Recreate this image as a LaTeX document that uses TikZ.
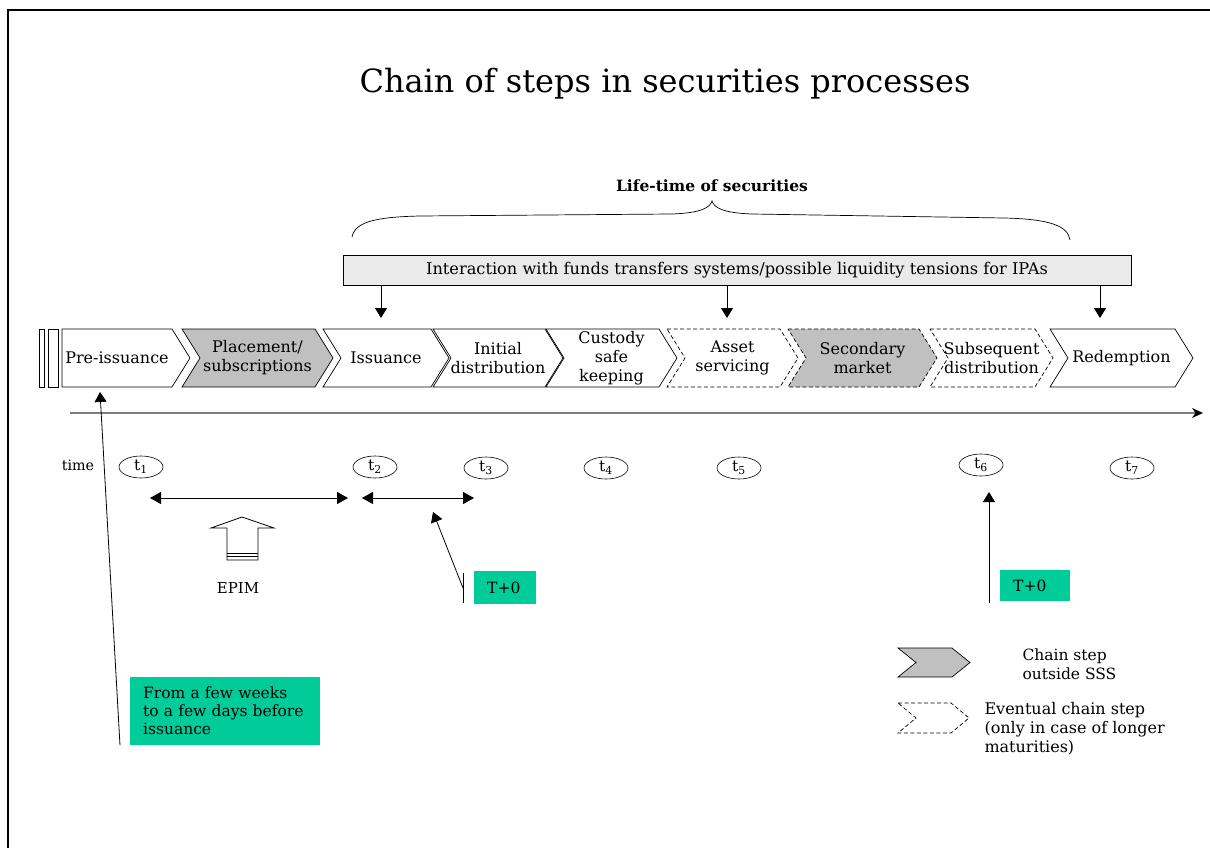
\documentclass[tikz,border=0pt]{standalone}
\usepackage{fontspec}
\setmainfont{DejaVu Serif}
\usepackage{tikz}
\usetikzlibrary{
  shapes.geometric,
  arrows.meta,
  positioning,
  calc
}
\definecolor{StepGray}{RGB}{192,192,192}
\definecolor{BandGray}{RGB}{234,234,234}
\definecolor{NoteGreen}{RGB}{0,204,153}
\definecolor{AxisGray}{RGB}{125,125,125}
\newcommand{\fs}[2]{\fontsize{#1}{#2}\selectfont}
%% chevron: name, style, x left, x tip, y top, y bottom, text
\newcommand{\chevstep}[7]{%
  \draw[#2] (#3,#5) -- ({#4-18},#5) -- (#4,{(#5+#6)/2})
    -- ({#4-18},#6) -- (#3,#6) -- ({#3+18},{(#5+#6)/2}) -- cycle;
  \node[steptext] (#1) at ({(#3+#4)/2},{(#5+#6)/2}) {#7};}
\tikzset{
  %%── chain steps ─────────────────────────────────────────
  stepbox/.style = {draw = black, line width = 0.7pt, fill = white},
  stepout/.style = {stepbox, fill = StepGray},
  stepopt/.style = {stepbox, dash pattern = on 4pt off 2.5pt},
  stepoutopt/.style = {stepout, dash pattern = on 4pt off 2.5pt},
  steptext/.style = {align = center, inner sep = 0pt, font = \fs{16}{19}},
  %%── time marks ──────────────────────────────────────────
  timeoval/.style = {
    ellipse, draw, line width = 0.6pt,
    minimum width = 44pt, minimum height = 22pt,
    inner sep = 0pt, font = \fs{15.5}{16}
  },
  %%── green notes ─────────────────────────────────────────
  note/.style = {
    rectangle, fill = NoteGreen, inner xsep = 13pt, inner ysep = 0pt,
    align = left, anchor = north west, font = \fs{15.5}{18}
  },
  band/.style = {
    rectangle, draw = black, line width = 0.7pt, fill = BandGray,
    minimum width = 788pt, minimum height = 30pt, font = \fs{16.2}{17}
  },
  %%── arrows ──────────────────────────────────────────────
  arr/.style  = {-{Triangle[length = 10pt, width = 12pt]}, line width = 0.8pt},
  darr/.style = {{Triangle[length = 11pt, width = 12pt]}-{Triangle[length = 11pt, width = 12pt]},
                 line width = 0.8pt},
  axis/.style = {-{Stealth[length = 11pt, width = 10pt, black]}, line width = 1.4pt, color = AxisGray},
}

\begin{document}
\begin{tikzpicture}[x = 1pt, y = -1pt, node distance = 6pt and 8pt]
  \useasboundingbox (0,0) rectangle (1210,848);
  \draw[line width = 1.6pt] (8,848) -- (8,10) -- (1210,10);

  %% ── title / life-time ─────────────────────────────────
  \node[font = \fs{32}{36}] (title) at (665,84) {Chain of steps in securities processes};
  \node[font = \fs{15.5}{18}\bfseries] (life) at (712,186) {Life-time of securities};
  \draw[line width = 0.7pt] (352,237) .. controls (355,222) and (375,217) .. (420,216)
    -- (672,214) .. controls (700,213) and (710,208) .. (712,201)
    .. controls (714,208) and (724,213) .. (752,214)
    -- (1004,218) .. controls (1050,219) and (1068,226) .. (1070,240);

  %% ── interaction band ──────────────────────────────────
  \node[band] (inter) at (737,270)
    {Interaction with funds transfers systems/possible liquidity tensions for IPAs};
  \coordinate (dn1) at (381,318);
  \coordinate (dn2) at (727,318);
  \coordinate (dn3) at (1100,318);

  %% ── chain of steps ────────────────────────────────────
  \draw[stepbox] (39,329) rectangle (44,387);
  \draw[stepbox] (48,329) rectangle (58,387);
  \draw[stepbox] (62,329) -- (172,329) -- (190,358) -- (172,387) -- (62,387) -- cycle;
  \node[steptext] (pre) at (117,358) {Pre-issuance};
  \chevstep{place}{stepout}{182}{333}{329}{387}{Placement/\\subscriptions}
  \chevstep{issu}{stepbox}{323}{449}{329}{387}{Issuance}
  \chevstep{init}{stepbox}{433}{563}{329}{387}{Initial\\distribution}
  \chevstep{cust}{stepbox}{546}{677}{329}{387}{Custody\\safe\\keeping}
  \chevstep{asset}{stepopt}{667}{798}{329}{387}{Asset\\servicing}
  \chevstep{second}{stepoutopt}{788}{937}{329}{387}{Secondary\\market}
  \chevstep{subseq}{stepopt}{930}{1053}{329}{387}{Subsequent\\distribution}
  \chevstep{redem}{stepbox}{1050}{1193}{329}{387}{Redemption}

  \draw[arr] (inter.south -| dn1) -- (dn1);
  \draw[arr] (inter.south -| dn2) -- (dn2);
  \draw[arr] (inter.south -| dn3) -- (dn3);

  %% ── time axis ─────────────────────────────────────────
  \coordinate (axL) at (70,413);
  \coordinate (axR) at (1203,413);
  \draw[axis] (axL) -- (axR);

  \node[font = \fs{14.3}{16}] (time) at (78,465) {time};
  \node[timeoval] (t1) at (141,467) {t\textsubscript{1}};
  \node[timeoval] (t2) at (375,467) {t\textsubscript{2}};
  \node[timeoval] (t3) at (486,468) {t\textsubscript{3}};
  \node[timeoval] (t4) at (606,468) {t\textsubscript{4}};
  \node[timeoval] (t5) at (739,468) {t\textsubscript{5}};
  \node[timeoval] (t6) at (981,465) {t\textsubscript{6}};
  \node[timeoval] (t7) at (1132,468) {t\textsubscript{7}};

  %% ── spans ─────────────────────────────────────────────
  \coordinate (sp1a) at (150,498);
  \coordinate (sp1b) at (348,498);
  \coordinate (sp2a) at (362,498);
  \coordinate (sp2b) at (474,498);
  \draw[darr] (sp1a) -- (sp1b);
  \draw[darr] (sp2a) -- (sp2b);

  %% EPIM hollow arrow
  \draw[line width = 0.8pt] (227,560) -- (227,528) -- (211,528) -- (242,517)
    -- (274,528) -- (258,528) -- (258,560) -- cycle;
  \draw[line width = 0.8pt] (227,553) -- (258,553);
  \draw[line width = 0.8pt] (227,556.5) -- (258,556.5);
  \node[font = \fs{15}{16}] (epim) at (238,588) {EPIM};

  %% ── notes ─────────────────────────────────────────────
  \node[note, text width = 164pt, minimum height = 68pt] (early) at (130,677)
    {From a few weeks\\to a few days before\\issuance};
  \node[note, text width = 36pt, minimum height = 33pt] (tzA) at (474,571) {T+0};
  \node[note, text width = 44pt, minimum height = 31pt] (tzB) at (1000,570) {T+0};

  \coordinate (eTail) at ($(early.south west)+(-10,0)$);
  \coordinate (eHead) at (100,392);
  \draw[arr] (eTail) -- (eHead);

  \coordinate (aTail) at (463,588);
  \coordinate (aHead) at (433,512);
  \draw[line width = 0.8pt] (463,573) -- (463,603);
  \draw[arr] (aTail) -- (aHead);

  \coordinate (bTail) at (989,603);
  \coordinate (bHead) at (989,492);
  \draw[arr] (bTail) -- (bHead);

  %% ── legend ────────────────────────────────────────────
  \chevstep{legA}{stepout}{898}{970}{648}{677}{}
  \chevstep{legB}{stepopt}{898}{969}{703}{733}{}
  \node[anchor = west, align = left, font = \fs{15.5}{18.5}] (legAtxt) at (1019,664)
    {Chain step\\outside SSS};
  \node[anchor = west, align = left, font = \fs{16}{19}] (legBtxt) at (981,729)
    {Eventual chain step\\(only in case of longer\\maturities)};

\end{tikzpicture}
\end{document}
